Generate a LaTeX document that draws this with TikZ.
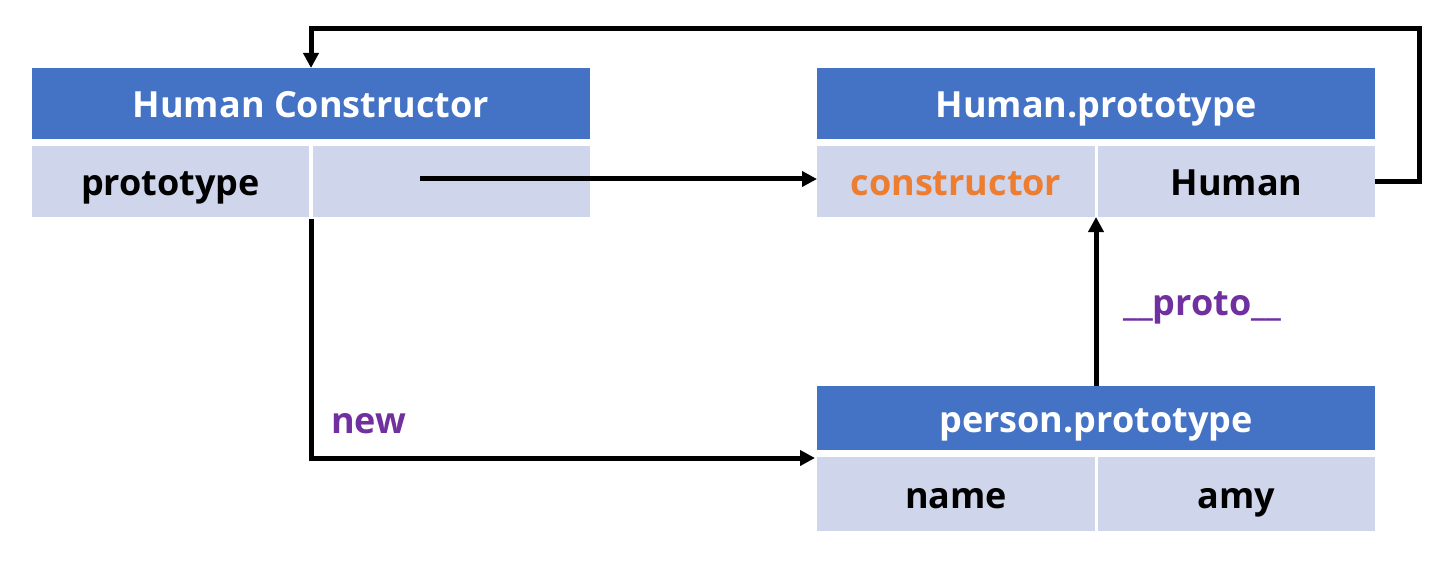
\documentclass[tikz,border=0pt]{standalone}
\usepackage{fontspec}
\setmainfont{Open Sans}
\usetikzlibrary{arrows.meta}
\definecolor{hdr}{HTML}{4472C4}
\definecolor{cellc}{HTML}{CFD5EA}
\definecolor{org}{HTML}{ED7D31}
\definecolor{pur}{HTML}{7030A0}
\begin{document}
\begin{tikzpicture}[x=1pt,y=-1pt,
  box/.style={draw=none, inner sep=0pt, outer sep=0pt, anchor=north west, font=\fontsize{36}{42}\selectfont\bfseries, text height=28pt, text depth=0pt},
  head/.style={box, fill=hdr, text=white},
  cellbox/.style={box, fill=cellc, text=black},
  conn/.style={line width=5pt, -{Triangle[length=15pt,width=15pt]}},
  lbl/.style={font=\fontsize{36}{42}\selectfont\bfseries, text=pur, inner sep=0pt, anchor=base west}]
\useasboundingbox[fill=white] (0,0) rectangle (1455,564);
% Human Constructor
\node[head, minimum width=558pt, minimum height=71pt] (h1) at (32,68) {Human Constructor};
\node[cellbox, minimum width=277pt, minimum height=71pt] (c1a) at (32,146) {prototype};
\node[cellbox, minimum width=277pt, minimum height=71pt] (c1b) at (313,146) {};
% Human.prototype
\node[head, minimum width=558pt, minimum height=71pt] (h2) at (817,68) {Human.prototype};
\node[cellbox, minimum width=278pt, minimum height=71pt, text=org] (c2a) at (817,146) {constructor};
\node[cellbox, minimum width=277pt, minimum height=71pt] (c2b) at (1098,146) {Human};
% person.prototype
\node[head, minimum width=558pt, minimum height=64pt] (h3) at (817,386) {person.prototype};
\node[cellbox, minimum width=278pt, minimum height=74pt] (c3a) at (817,457) {name};
\node[cellbox, minimum width=277pt, minimum height=74pt] (c3b) at (1098,457) {amy};
% connectors
\coordinate (ps) at (420,179);
\coordinate (rt) at (1419,29);
\coordinate (ns) at (311,219);
\coordinate (ne) at (815,458);
\draw[conn] (ps) -- (c2a.west |- ps);
\draw[conn] (c2b.east) -| (rt) -| (h1.north);
\draw[conn] (ns) |- (ne);
\draw[conn] (h3.north) -- (h3.north |- c2a.south);
% labels
\node[lbl] (lnew) at (331,433) {new};
\node[lbl] (lproto) at (1123,315) {\_\_proto\_\_};
\end{tikzpicture}
\end{document}
